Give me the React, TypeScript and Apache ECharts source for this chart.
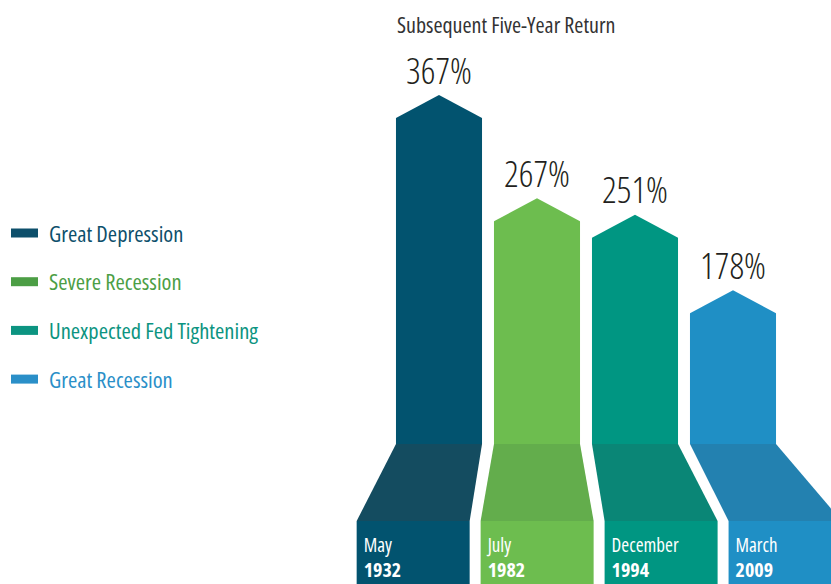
import React, { useEffect, useRef } from "react";
import * as echarts from "echarts";

const seriesNames = ["Great Depression", "Severe Recession", "Unexpected Fed Tightening", "Great Recession"];
const months = ["May", "July", "December", "March"];
const years = ["1932", "1982", "1994", "2009"];
const returns = [367, 267, 251, 178];
const titleText = "Subsequent Five-Year Return";
const barColors = ["#02536f", "#6dbd4f", "#009682", "#1f8fc5"];
const floorColors = ["#144c60", "#63ad4c", "#0a8676", "#2381b0"];
const legendColors = ["#0d4f6b", "#4c9e45", "#0c9481", "#2a8fc8"];

const FONT = "'Open Sans', 'Roboto', sans-serif";
const BASE_Y = 444;
const FLOOR_Y = 521;
const VANISH_X = 536.5;
const SPREAD = 1.265;
const BOX_W = 113;
const LEGEND_Y0 = 233;
const LEGEND_STEP = 48.7;

export default function App() {
  const ref = useRef<HTMLDivElement>(null);
  useEffect(() => {
    document.body.style.margin = "0";
    const chart = echarts.init(ref.current!, null, { renderer: "svg" });
    const renderItem = (params: any, api: any) => {
      const i = api.value(0);
      const v = api.value(1);
      const c = api.coord([i, 0]);
      const cx = c[0];
      const tip = api.coord([i, v])[1];
      const band = api.size([1, 0])[0];
      const bw = band * 0.878;
      const left = cx - bw / 2;
      const right = cx + bw / 2;
      const shoulder = tip + 23;
      const bcx = VANISH_X + (cx - VANISH_X) * SPREAD;
      const bl = bcx - BOX_W / 2;
      const br = bcx + BOX_W / 2;
      return {
        type: "group",
        children: [
          {
            type: "polygon",
            shape: { points: [[left, BASE_Y], [left, shoulder], [cx, tip], [right, shoulder], [right, BASE_Y]] },
            style: { fill: barColors[i] },
          },
          {
            type: "polygon",
            shape: { points: [[left, BASE_Y], [right, BASE_Y], [br, FLOOR_Y], [bl, FLOOR_Y]] },
            style: { fill: floorColors[i] },
          },
          {
            type: "rect",
            shape: { x: bl, y: FLOOR_Y, width: BOX_W, height: 70 },
            style: { fill: barColors[i] },
          },
          {
            type: "text",
            x: cx,
            y: tip - 7,
            style: {
              text: returns[i] + "%",
              fill: "#231f20",
              font: `condensed 300 36px ${FONT}`,
              align: "center",
              verticalAlign: "bottom",
            },
          },
          {
            type: "text",
            x: bl + 7,
            y: 545,
            style: { text: months[i], fill: "#ffffff", font: `semi-condensed 19px ${FONT}`, align: "left", verticalAlign: "middle" },
          },
          {
            type: "text",
            x: bl + 7,
            y: 569,
            style: { text: years[i], fill: "#ffffff", font: `semi-condensed bold 20px ${FONT}`, align: "left", verticalAlign: "middle" },
          },
        ],
      };
    };
    const legendElements: any[] = [];
    seriesNames.forEach((n, k) => {
      const y = LEGEND_Y0 + k * LEGEND_STEP;
      legendElements.push({
        type: "rect",
        shape: { x: 11, y: y - 4.5, width: 27, height: 9 },
        style: { fill: legendColors[k] },
      });
      legendElements.push({
        type: "text",
        x: 49,
        y: y,
        style: { text: n, fill: legendColors[k], font: `condensed 22.5px ${FONT}`, align: "left", verticalAlign: "middle" },
      });
    });
    chart.setOption({
      animation: false,
      graphic: [
        {
          type: "text",
          x: 397,
          y: 24,
          style: { text: titleText, fill: "#333333", font: `condensed 22px ${FONT}`, align: "left", verticalAlign: "middle" },
        },
        ...legendElements,
      ],
      grid: { left: 390, right: 49, top: 61, bottom: 110 },
      xAxis: { type: "category", data: months.map((m, k) => m + " " + years[k]), show: false },
      yAxis: { type: "value", min: 0, max: 400, show: false },
      series: seriesNames.map((n, k) => ({
        name: n,
        type: "custom",
        clip: false,
        itemStyle: { color: barColors[k] },
        encode: { x: 0, y: 1 },
        data: [[k, returns[k]]],
        renderItem,
      })),
    });
    return () => chart.dispose();
  }, []);
  return <div ref={ref} style={{ width: 831, height: 584 }} />;
}
